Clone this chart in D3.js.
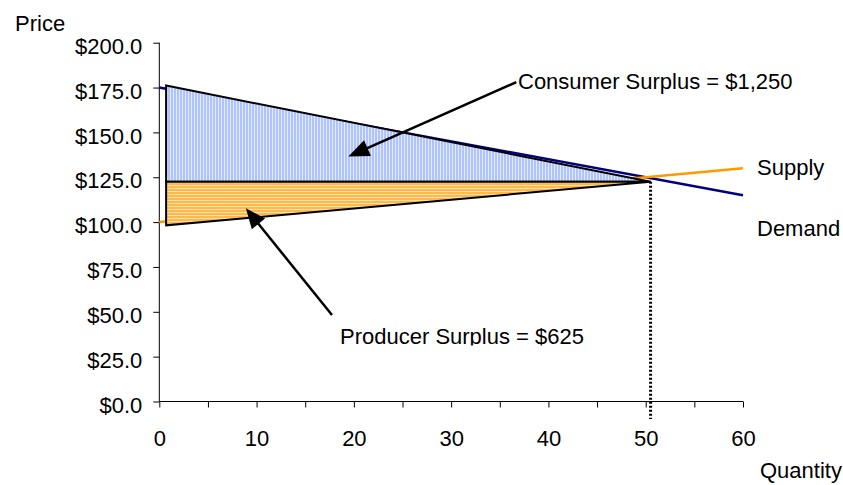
<!DOCTYPE html>
<html>
<head>
<meta charset="utf-8">
<script src="https://cdn.jsdelivr.net/npm/d3@7"></script>
<style>
  html, body { margin: 0; padding: 0; background: #fff; }
  svg { display: block; }
  text { font-family: "Liberation Sans", Arial, sans-serif; font-size: 22px; fill: #000; }
</style>
</head>
<body>
<svg id="chart" width="843" height="485"></svg>
<script>
// ---- data ----
const quantity = [0, 60];
const demandPrice = [175, 115];
const supplyPrice = [100, 130];
const yTickValues = [0, 25, 50, 75, 100, 125, 150, 175, 200];
const xTickValues = [0, 5, 10, 15, 20, 25, 30, 35, 40, 45, 50, 55, 60];
const xTickLabels = ["0", "", "10", "", "20", "", "30", "", "40", "", "50", "", "60"];
// annotation shapes (drawn by hand in the original, in data units)
const consumerSurplusShape = [[0.7, 176.1], [50.5, 122.5], [0.7, 122.5]];
const producerSurplusShape = [[0.7, 122.5], [50.5, 122.5], [0.7, 98.2]];
const dropLine = [[50.5, 122.5], [50.5, -9.8]];
const consumerArrow = [[36.7, 178.0], [19.43, 136.5]];
const producerArrow = [[17.75, 48.2], [8.9, 107.7]];
const consumerLabel = "Consumer Surplus = $1,250";
const producerLabel = "Producer Surplus = $625";

const svg = d3.select("#chart");
svg.append("rect").attr("width", 843).attr("height", 485).attr("fill", "#fff");

const x = d3.scaleLinear().domain([0, 60]).range([159.3, 743]);
const y = d3.scaleLinear().domain([0, 200]).range([401.5, 42.7]);

// patterns
const defs = svg.append("defs");
const pb = defs.append("pattern").attr("id", "blueV").attr("patternUnits", "userSpaceOnUse")
  .attr("width", 3).attr("height", 3);
pb.append("rect").attr("width", 3).attr("height", 3).attr("fill", "#e3eaff");
pb.append("rect").attr("width", 2).attr("height", 3).attr("fill", "#afc3fd");
const po = defs.append("pattern").attr("id", "orangeH").attr("patternUnits", "userSpaceOnUse")
  .attr("width", 3).attr("height", 3);
po.append("rect").attr("width", 3).attr("height", 3).attr("fill", "#ffe2ad");
po.append("rect").attr("width", 3).attr("height", 2).attr("fill", "#ffb84a");
defs.append("clipPath").attr("id", "clipProd").append("rect")
  .attr("x", 300).attr("y", 300).attr("width", 400).attr("height", 45.5);

// axes
const yAxis = d3.axisLeft(y).tickValues(yTickValues)
  .tickFormat(d => "$" + d.toFixed(1)).tickSize(6).tickPadding(11);
const gy = svg.append("g").attr("transform", `translate(${x(0)},0)`).call(yAxis);
gy.select(".domain").attr("stroke", "#000").attr("d", `M0,${y(200)}V${y(0)}`);
gy.selectAll(".tick line").attr("stroke", "#000");
gy.selectAll("text").attr("dy", "10.6px").style("font-size", "22px")
  .style("font-family", '"Liberation Sans", Arial, sans-serif');

const xAxis = d3.axisBottom(x).tickValues(xTickValues)
  .tickFormat((d, i) => xTickLabels[i]).tickSize(6).tickPadding(23);
const gx = svg.append("g").attr("transform", `translate(0,${y(0)})`).call(xAxis);
gx.select(".domain").attr("stroke", "#000").attr("d", `M${x(0)},0H${x(60)}`);
gx.selectAll(".tick line").attr("stroke", "#000");
gx.selectAll("text").style("font-size", "22px")
  .style("font-family", '"Liberation Sans", Arial, sans-serif');

// series lines
const line = d3.line().x(d => x(d[0])).y(d => y(d[1]));
svg.append("path").datum(quantity.map((q, i) => [q, demandPrice[i]]))
  .attr("d", line).attr("fill", "none").attr("stroke", "#000080").attr("stroke-width", 2.5);
svg.append("path").datum(quantity.map((q, i) => [q, supplyPrice[i]]))
  .attr("d", line).attr("fill", "none").attr("stroke", "#ff9900").attr("stroke-width", 2.5);

// surplus shapes
svg.append("path").datum(consumerSurplusShape)
  .attr("d", d => line(d) + "Z").attr("fill", "url(#blueV)")
  .attr("stroke", "#000").attr("stroke-width", 2).attr("stroke-linejoin", "miter");
svg.append("path").datum(producerSurplusShape)
  .attr("d", d => line(d) + "Z").attr("fill", "url(#orangeH)")
  .attr("stroke", "#000").attr("stroke-width", 2).attr("stroke-linejoin", "miter");

// drop line
svg.append("path").datum(dropLine).attr("d", line).attr("fill", "none")
  .attr("stroke", "#000").attr("stroke-width", 3).attr("stroke-dasharray", "2,2");

// arrows
function arrow(pts, len, hw) {
  const x0 = x(pts[0][0]), y0 = y(pts[0][1]), x1 = x(pts[1][0]), y1 = y(pts[1][1]);
  const dx = x1 - x0, dy = y1 - y0, L = Math.hypot(dx, dy);
  const ux = dx / L, uy = dy / L;
  const bx = x1 - ux * len, by = y1 - uy * len;
  svg.append("line").attr("x1", x0).attr("y1", y0).attr("x2", bx + ux * 2).attr("y2", by + uy * 2)
    .attr("stroke", "#000").attr("stroke-width", 2.5);
  svg.append("polygon").attr("points", [
    [x1, y1], [bx - uy * hw, by + ux * hw], [bx + uy * hw, by - ux * hw]
  ].map(p => p.join(",")).join(" ")).attr("fill", "#000");
}
arrow(consumerArrow, 21, 8.5);
arrow(producerArrow, 20, 8.5);

// labels
svg.append("text").attr("x", 518).attr("y", 88.5).text(consumerLabel);
svg.append("g").attr("clip-path", "url(#clipProd)")
  .append("text").attr("x", 340).attr("y", 344).text(producerLabel);
svg.append("text").attr("x", 757).attr("y", 174.5).text("Supply");
svg.append("text").attr("x", 757).attr("y", 235.7).text("Demand");
svg.append("text").attr("x", 15).attr("y", 30.7).text("Price");
svg.append("text").attr("x", 760).attr("y", 478).text("Quantity");
</script>
</body>
</html>
